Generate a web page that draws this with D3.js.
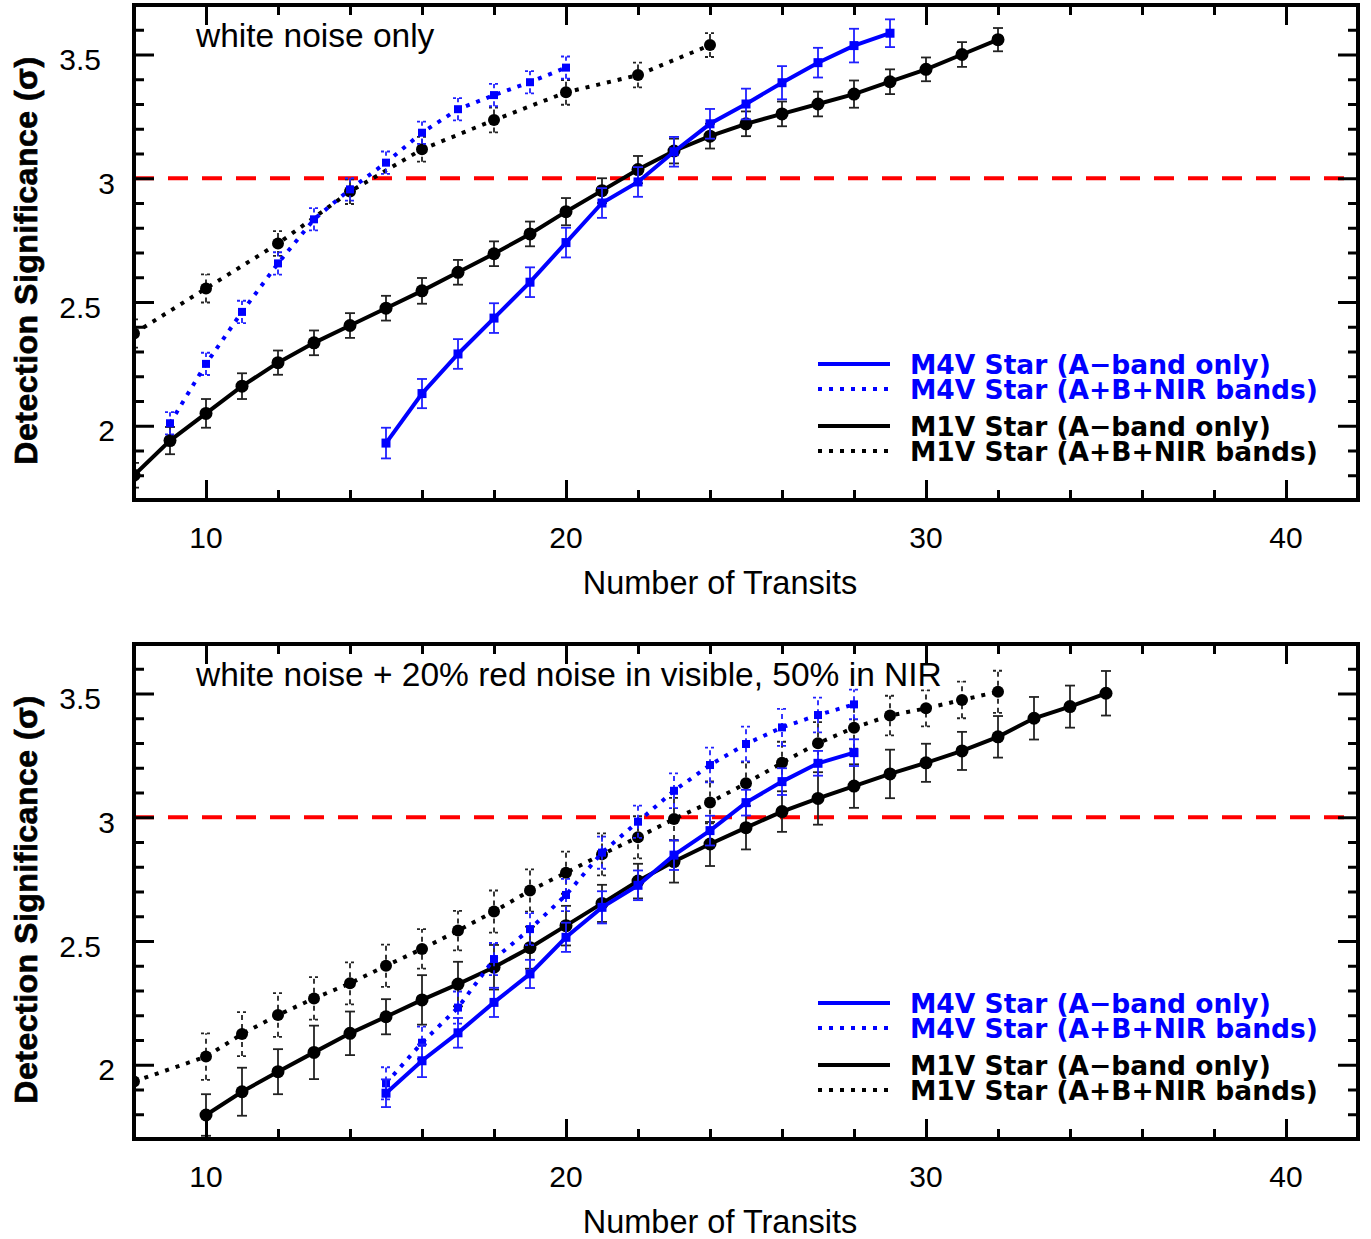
<!DOCTYPE html>
<html>
<head>
<meta charset="utf-8">
<script src="https://cdn.jsdelivr.net/npm/d3@7"></script>
<style>
  html, body { margin: 0; padding: 0; background: #fff; }
  svg { display: block; }
</style>
</head>
<body>
<svg id="chart" width="1371" height="1239"></svg>
<script>
// ---------------- DATA ----------------
const xTickLabels = ["10", "20", "30", "40"];
const yTickLabels = ["2", "2.5", "3", "3.5"];
const threshold = 3;

const titles = ["white noise only", "white noise + 20% red noise in visible, 50% in NIR"];
const legendLabels = [
  "M4V Star (A\u2212band only)",
  "M4V Star (A+B+NIR bands)",
  "M1V Star (A\u2212band only)",
  "M1V Star (A+B+NIR bands)"
];

// Top panel: white noise only
const topM1VA_x = [8,9,10,11,12,13,14,15,16,17,18,19,20,21,22,23,24,25,26,27,28,29,30,31,32];
const topM1VA_y = [1.80,1.94,2.05,2.16,2.255,2.335,2.405,2.475,2.545,2.62,2.695,2.775,2.865,2.95,3.035,3.11,3.17,3.22,3.26,3.30,3.34,3.39,3.44,3.50,3.56];
const topM1VA_e = [0.05,0.055,0.058,0.052,0.049,0.05,0.05,0.05,0.052,0.05,0.05,0.05,0.055,0.05,0.055,0.05,0.05,0.05,0.05,0.05,0.055,0.05,0.048,0.05,0.047];

const topM4VA_x = [15,16,17,18,19,20,21,22,23,24,25,26,27,28,29];
const topM4VA_y = [1.93,2.13,2.29,2.435,2.58,2.74,2.90,2.985,3.107,3.22,3.30,3.386,3.467,3.536,3.586];
const topM4VA_e = [0.062,0.059,0.06,0.06,0.06,0.06,0.06,0.06,0.06,0.06,0.062,0.067,0.06,0.068,0.056];

const topM4VABN_x = [9,10,11,12,13,14,15,16,17,18,19,20];
const topM4VABN_y = [2.01,2.25,2.46,2.656,2.834,2.955,3.063,3.184,3.279,3.336,3.388,3.447];
const topM4VABN_e = [0.045,0.045,0.045,0.045,0.045,0.045,0.045,0.045,0.045,0.045,0.045,0.045];

const topM1VABN_x = [8,10,12,14,16,18,20,22,24];
const topM1VABN_y = [2.373,2.555,2.736,2.946,3.117,3.235,3.347,3.417,3.538];
const topM1VABN_e = [0.057,0.057,0.05,0.05,0.05,0.05,0.05,0.05,0.048];

// Bottom panel: white + red noise
const botM1VA_x = [10,11,12,13,14,15,16,17,18,19,20,21,22,23,24,25,26,27,28,29,30,31,32,33,34,35];
const botM1VA_y = [1.797,1.891,1.972,2.05,2.127,2.194,2.262,2.326,2.394,2.473,2.562,2.652,2.742,2.821,2.892,2.958,3.023,3.076,3.126,3.175,3.22,3.268,3.325,3.40,3.447,3.501];
const botM1VA_e = [0.084,0.097,0.091,0.108,0.088,0.071,0.10,0.09,0.09,0.085,0.08,0.075,0.07,0.085,0.089,0.088,0.082,0.106,0.088,0.098,0.077,0.077,0.084,0.086,0.085,0.09];

const botM1VABN_x = [8,10,11,12,13,14,15,16,17,18,19,20,21,22,23,24,25,26,27,28,29,30,31,32];
const botM1VABN_y = [1.932,2.033,2.124,2.201,2.268,2.329,2.40,2.468,2.542,2.619,2.704,2.776,2.85,2.919,2.993,3.06,3.137,3.22,3.299,3.362,3.411,3.44,3.474,3.507];
const botM1VABN_e = [0,0.094,0.089,0.088,0.086,0.085,0.085,0.08,0.08,0.085,0.085,0.085,0.085,0.085,0.085,0.085,0.085,0.085,0.085,0.085,0.08,0.073,0.074,0.085];

const botM4VA_x = [15,16,17,18,19,20,21,22,23,24,25,26,27,28];
const botM4VA_y = [1.885,2.016,2.129,2.252,2.367,2.515,2.636,2.725,2.847,2.946,3.059,3.144,3.218,3.261];
const botM4VA_e = [0.056,0.066,0.06,0.059,0.057,0.059,0.065,0.06,0.06,0.06,0.052,0.054,0.05,0.054];

const botM4VABN_x = [15,16,17,18,19,20,21,22,23,24,25,26,27,28];
const botM4VABN_y = [1.925,2.089,2.231,2.427,2.548,2.686,2.857,2.982,3.107,3.211,3.296,3.363,3.413,3.456];
const botM4VABN_e = [0.065,0.065,0.065,0.065,0.065,0.065,0.065,0.065,0.07,0.07,0.07,0.075,0.07,0.06];

// ---------------- STYLE / LAYOUT ----------------
const BLUE = "#0000ff";
const BLACK = "#000000";
const RED = "#ff0000";

function zip(xs, ys, es) { return xs.map((x, i) => ({x: x, y: ys[i], e: es[i]})); }

const panels = [
  { top: 5, bottom: 500, title: titles[0],
    series: [
      {data: zip(topM1VA_x, topM1VA_y, topM1VA_e), color: BLACK, dotted: false, marker: "circle"},
      {data: zip(topM1VABN_x, topM1VABN_y, topM1VABN_e), color: BLACK, dotted: true, marker: "circle"},
      {data: zip(topM4VABN_x, topM4VABN_y, topM4VABN_e), color: BLUE, dotted: true, marker: "square"},
      {data: zip(topM4VA_x, topM4VA_y, topM4VA_e), color: BLUE, dotted: false, marker: "square"}
    ]},
  { top: 644, bottom: 1139, title: titles[1],
    series: [
      {data: zip(botM1VA_x, botM1VA_y, botM1VA_e), color: BLACK, dotted: false, marker: "circle"},
      {data: zip(botM1VABN_x, botM1VABN_y, botM1VABN_e), color: BLACK, dotted: true, marker: "circle"},
      {data: zip(botM4VABN_x, botM4VABN_y, botM4VABN_e), color: BLUE, dotted: true, marker: "square"},
      {data: zip(botM4VA_x, botM4VA_y, botM4VA_e), color: BLUE, dotted: false, marker: "square"}
    ]}
];

const legendStyles = [
  {color: BLUE, dotted: false},
  {color: BLUE, dotted: true},
  {color: BLACK, dotted: false},
  {color: BLACK, dotted: true}
];
const legendOffsets = [359, 384, 421, 446];

const svg = d3.select("#chart");
svg.append("rect").attr("width", 1371).attr("height", 1239).attr("fill", "#fff");

const LEFT = 134, RIGHT = 1358;
const x = d3.scaleLinear().domain([8, 42]).range([LEFT, RIGHT]);

panels.forEach(p => {
  const y = d3.scaleLinear().domain([1.7, 3.7]).range([p.bottom, p.top]);
  const g = svg.append("g");

  const clipId = "clip" + p.top;
  svg.append("clipPath").attr("id", clipId).append("rect")
    .attr("x", LEFT).attr("y", p.top).attr("width", RIGHT - LEFT).attr("height", p.bottom - p.top);

  // threshold line
  g.append("line")
    .attr("x1", LEFT).attr("x2", RIGHT)
    .attr("y1", y(threshold)).attr("y2", y(threshold))
    .attr("stroke", RED).attr("stroke-width", 4)
    .attr("stroke-dasharray", "20,14");

  const plot = g.append("g").attr("clip-path", "url(#" + clipId + ")");

  const line = d3.line().x(d => x(d.x)).y(d => y(d.y));

  p.series.forEach(s => {
    // error bars
    const eg = plot.append("g");
    s.data.filter(d => d.e > 0).forEach(d => {
      const cx = x(d.x), y1 = y(d.y - d.e), y2 = y(d.y + d.e);
      const sw = 1.8;
      const col = s.color === BLUE ? "#2020ff" : "#222";
      const dash = s.dotted ? "5,4" : null;
      eg.append("line").attr("x1", cx).attr("x2", cx).attr("y1", y1).attr("y2", y2)
        .attr("stroke", col).attr("stroke-width", sw).attr("stroke-dasharray", dash);
      [y1, y2].forEach(yy => {
        eg.append("line").attr("x1", cx - 5).attr("x2", cx + 5).attr("y1", yy).attr("y2", yy)
          .attr("stroke", col).attr("stroke-width", sw).attr("stroke-dasharray", s.dotted ? "3,3" : null);
      });
    });
    // line
    plot.append("path").datum(s.data)
      .attr("d", line)
      .attr("fill", "none")
      .attr("stroke", s.color)
      .attr("stroke-width", 4)
      .attr("stroke-dasharray", s.dotted ? "4,7" : null);
    // markers
    if (s.marker === "circle") {
      plot.selectAll(null).data(s.data).enter().append("circle")
        .attr("cx", d => x(d.x)).attr("cy", d => y(d.y)).attr("r", s.dotted ? 6 : 6.5)
        .attr("fill", s.color);
    } else {
      const sz = s.dotted ? 8 : 9;
      plot.selectAll(null).data(s.data).enter().append("rect")
        .attr("x", d => x(d.x) - sz / 2).attr("y", d => y(d.y) - sz / 2)
        .attr("width", sz).attr("height", sz)
        .attr("fill", s.color);
    }
  });

  // axes ticks (inward on all four sides)
  const tickStyle = sel => {
    sel.select(".domain").remove();
    sel.selectAll("line").attr("stroke", "#000").attr("stroke-width", 3);
    sel.selectAll("text").remove();
  };
  const xMajor = [10, 20, 30, 40];
  const xMinor = d3.range(8, 43, 2).filter(v => xMajor.indexOf(v) < 0);
  const yMajor = yTickLabels.map(Number);
  const yMinor = d3.range(17, 38, 1).map(v => v / 10).filter(v => yMajor.indexOf(v) < 0 && v > 1.7 && v < 3.7);

  g.append("g").attr("transform", `translate(0,${p.bottom})`).call(d3.axisBottom(x).tickValues(xMajor).tickSize(-20)).call(tickStyle);
  g.append("g").attr("transform", `translate(0,${p.bottom})`).call(d3.axisBottom(x).tickValues(xMinor).tickSize(-10)).call(tickStyle);
  g.append("g").attr("transform", `translate(0,${p.top})`).call(d3.axisTop(x).tickValues(xMajor).tickSize(-20)).call(tickStyle);
  g.append("g").attr("transform", `translate(0,${p.top})`).call(d3.axisTop(x).tickValues(xMinor).tickSize(-10)).call(tickStyle);
  g.append("g").attr("transform", `translate(${LEFT},0)`).call(d3.axisLeft(y).tickValues(yMajor).tickSize(-20)).call(tickStyle);
  g.append("g").attr("transform", `translate(${LEFT},0)`).call(d3.axisLeft(y).tickValues(yMinor).tickSize(-10)).call(tickStyle);
  g.append("g").attr("transform", `translate(${RIGHT},0)`).call(d3.axisRight(y).tickValues(yMajor).tickSize(-20)).call(tickStyle);
  g.append("g").attr("transform", `translate(${RIGHT},0)`).call(d3.axisRight(y).tickValues(yMinor).tickSize(-10)).call(tickStyle);

  // frame
  g.append("rect").attr("x", LEFT).attr("y", p.top).attr("width", RIGHT - LEFT).attr("height", p.bottom - p.top)
    .attr("fill", "none").attr("stroke", "#000").attr("stroke-width", 4);

  // tick labels
  g.selectAll(null).data(xTickLabels).enter().append("text")
    .attr("x", d => x(+d)).attr("y", p.bottom + 48)
    .attr("text-anchor", "middle")
    .attr("font-family", "Liberation Sans, Arial, sans-serif").attr("font-size", 30)
    .text(d => d);
  g.selectAll(null).data(yTickLabels).enter().append("text")
    .attr("x", d => d.indexOf(".") >= 0 ? 101 : 115).attr("y", d => y(+d) + 15.5)
    .attr("text-anchor", "end")
    .attr("font-family", "Liberation Sans, Arial, sans-serif").attr("font-size", 30)
    .text(d => d);

  // axis titles
  g.append("text")
    .attr("x", 720).attr("y", p.bottom + 94)
    .attr("text-anchor", "middle")
    .attr("font-family", "Liberation Sans, Arial, sans-serif").attr("font-size", 32.5)
    .text("Number of Transits");
  g.append("text")
    .attr("transform", `translate(37,${(p.top + p.bottom) / 2 + 8}) rotate(-90)`)
    .attr("text-anchor", "middle")
    .attr("font-family", "Liberation Sans, Arial, sans-serif").attr("font-weight", "bold").attr("font-size", 32)
    .attr("letter-spacing", 0.5)
    .attr("stroke", "#000").attr("stroke-width", 0.7)
    .text("Detection Significance (\u03c3)");

  // panel title
  g.append("text")
    .attr("x", 196).attr("y", p.top + 42)
    .attr("font-family", "Liberation Sans, Arial, sans-serif").attr("font-size", 33.5)
    .text(p.title);

  // legend
  legendLabels.forEach((lab, i) => {
    const st = legendStyles[i];
    const ly = p.top + legendOffsets[i];
    g.append("line").attr("x1", 818).attr("x2", 890).attr("y1", ly).attr("y2", ly)
      .attr("stroke", st.color).attr("stroke-width", 4)
      .attr("stroke-dasharray", st.dotted ? "4,7" : null);
    g.append("text").attr("x", 910).attr("y", ly + 10)
      .attr("font-family", "DejaVu Sans, sans-serif").attr("font-weight", "bold").attr("font-size", 26.5)
      .attr("fill", st.color)
      .text(lab);
  });
});
</script>
</body>
</html>
